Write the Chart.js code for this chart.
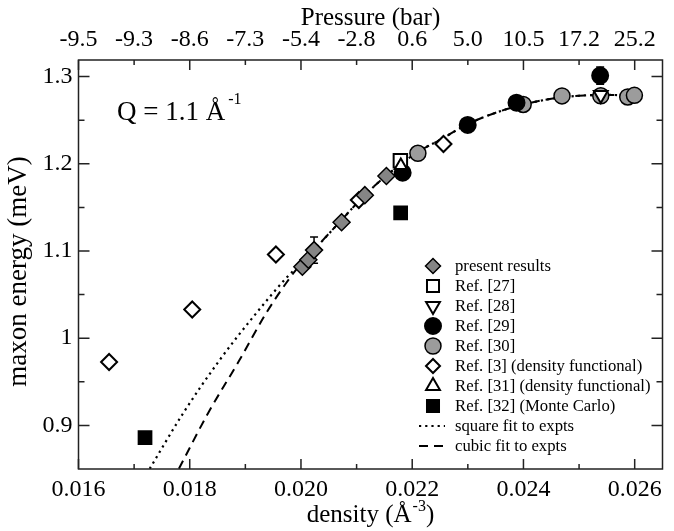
<!DOCTYPE html>
<html>
<head>
<meta charset="utf-8">
<script src="https://cdn.jsdelivr.net/npm/chart.js"></script>
<style>
	body { margin: 0; background: #fff; }
	canvas { display: block; }
</style>
</head>
<body>
<canvas id="grafico" width="674" height="531"></canvas>
<script>
// density (A^-3) vs maxon energy (meV)
var presentX = [0.020025, 0.020133, 0.020235, 0.020730, 0.021148, 0.021536];
var presentY = [1.082, 1.090, 1.101, 1.133, 1.164, 1.186];
var presentErr = [0, 0, 0.015, 0, 0, 0];

var ref27X = [0.021787];
var ref27Y = [1.2035];

var ref28X = [0.025390];
var ref28Y = [1.279];

var ref29X = [0.021828, 0.022998, 0.023875, 0.025379];
var ref29Y = [1.1897, 1.2445, 1.2701, 1.3011];
var ref29Err = [0, 0, 0, 0.010];

var ref30X = [0.022102, 0.023995, 0.024693, 0.025390, 0.025875, 0.025995];
var ref30Y = [1.212, 1.268, 1.2778, 1.278, 1.2766, 1.2785];

var ref3X = [0.016550, 0.018045, 0.019549, 0.021040, 0.022562];
var ref3Y = [0.9727, 1.0329, 1.096, 1.1584, 1.2227];

var ref31X = [0.021795];
var ref31Y = [1.198];

var ref32X = [0.017196, 0.021792];
var ref32Y = [0.8859, 1.1438];

// fit curves
var squareFitX = [0.01728, 0.017876, 0.018534, 0.019191, 0.019728, 0.019966, 0.0202, 0.0207, 0.0211, 0.0215, 0.0221, 0.0225, 0.0230, 0.0235, 0.0240, 0.0245, 0.0250, 0.0255, 0.0260];
var squareFitY = [0.8503, 0.9134, 0.9746, 1.0283, 1.0685, 1.0837, 1.099, 1.1335, 1.161, 1.1845, 1.2135, 1.2275, 1.2455, 1.2585, 1.268, 1.2745, 1.278, 1.279, 1.278];
var cubicFitX = [0.017805, 0.018324, 0.018892, 0.01937, 0.019728, 0.019907, 0.0202, 0.0207, 0.0211, 0.0215, 0.0221, 0.0225, 0.0230, 0.0235, 0.0240, 0.0245, 0.0250, 0.0255, 0.0260];
var cubicFitY = [0.8503, 0.9134, 0.9746, 1.0283, 1.0627, 1.078, 1.099, 1.1335, 1.161, 1.1845, 1.2135, 1.2275, 1.2455, 1.2585, 1.268, 1.2745, 1.278, 1.279, 1.278];

// top axis: pressure at each density tick
var pressureTicks = [0.016, 0.017, 0.018, 0.019, 0.020, 0.021, 0.022, 0.023, 0.024, 0.025, 0.026];
var pressureLabels = ['-9.5', '-9.3', '-8.6', '-7.3', '-5.4', '-2.8', '0.6', '5.0', '10.5', '17.2', '25.2'];

var legendLabels = ['present results', 'Ref. [27]', 'Ref. [28]', 'Ref. [29]', 'Ref. [30]',
	'Ref. [3] (density functional)', 'Ref. [31] (density functional)', 'Ref. [32] (Monte Carlo)',
	'square fit to expts', 'cubic fit to expts'];

var serif = "'Liberation Serif', 'Times New Roman', serif";
Chart.defaults.font.family = serif;
Chart.defaults.color = '#000';
var gray1 = '#858585';
var gray2 = '#9c9c9c';

function pts(xs, ys) {
	var out = [];
	for (var i = 0; i < xs.length; i++) out.push({x: xs[i], y: ys[i]});
	return out;
}

function marker(label, xs, ys, style, radius, bg, extra) {
	var ds = {
		label: label,
		data: pts(xs, ys),
		pointStyle: style,
		pointRadius: radius,
		pointBackgroundColor: bg,
		pointBorderColor: '#000',
		pointBorderWidth: 2,
		showLine: false
	};
	for (var k in extra || {}) ds[k] = extra[k];
	return ds;
}

var dsRef31 = marker(legendLabels[6], ref31X, ref31Y, 'triangle', 7, '#fff');
var dsRef27 = marker(legendLabels[1], ref27X, ref27Y, 'rect', 9.5, '#fff');
var dsRef28 = marker(legendLabels[2], ref28X, ref28Y, 'triangle', 8, '#fff', {pointRotation: 180});
var dsRef29 = marker(legendLabels[3], ref29X, ref29Y, 'circle', 8, '#000');
var dsPresent = marker(legendLabels[0], presentX, presentY, 'rectRot', 8.5, gray1, {pointBorderWidth: 1.5});
var dsRef3 = marker(legendLabels[5], ref3X, ref3Y, 'rectRot', 8, '#fff');
var dsRef30 = marker(legendLabels[4], ref30X, ref30Y, 'circle', 8, gray2, {pointBorderWidth: 1.5});
var dsRef32 = marker(legendLabels[7], ref32X, ref32Y, 'rect', 9, '#000');

var dsSquare = {
	label: legendLabels[8], data: pts(squareFitX, squareFitY), showLine: true,
	borderColor: '#000', borderWidth: 2.2, borderDash: [2.2, 4], pointRadius: 0,
	cubicInterpolationMode: 'monotone'
};
var dsCubic = {
	label: legendLabels[9], data: pts(cubicFitX, cubicFitY), showLine: true,
	borderColor: '#000', borderWidth: 2, borderDash: [9, 6], pointRadius: 0,
	cubicInterpolationMode: 'monotone'
};

// legend order as in the figure
var legendItems = [
	{ds: dsPresent, r: 7.5}, {ds: dsRef27, r: 8.5}, {ds: dsRef28, r: 8}, {ds: dsRef29, r: 8},
	{ds: dsRef30, r: 8}, {ds: dsRef3, r: 7}, {ds: dsRef31, r: 8}, {ds: dsRef32, r: 8.5},
	{ds: dsSquare, line: true}, {ds: dsCubic, line: true}
];

var errorBars = [
	{xs: presentX, ys: presentY, err: presentErr},
	{xs: ref29X, ys: ref29Y, err: ref29Err}
];

// text with a superscript part, centred on cx
function supText(ctx, base, sup, tail, cx, cy, size) {
	ctx.font = size + 'px ' + serif;
	var w1 = ctx.measureText(base).width;
	var w3 = ctx.measureText(tail).width;
	ctx.font = Math.round(size * 0.62) + 'px ' + serif;
	var w2 = ctx.measureText(sup).width;
	var x0 = cx - (w1 + w2 + w3 + 1) / 2;
	ctx.font = size + 'px ' + serif;
	ctx.fillText(base, x0, cy);
	ctx.fillText(tail, x0 + w1 + w2 + 1, cy);
	ctx.font = Math.round(size * 0.62) + 'px ' + serif;
	ctx.fillText(sup, x0 + w1 + 1, cy - size * 0.45);
}

var framePlugin = {
	id: 'frame',
	beforeDatasetsDraw: function(chart) {
		var ctx = chart.ctx, x = chart.scales.x, y = chart.scales.y;
		ctx.save();
		ctx.strokeStyle = '#000';
		ctx.lineWidth = 1.5;
		errorBars.forEach(function(e) {
			for (var i = 0; i < e.xs.length; i++) {
				if (!e.err[i]) continue;
				var px = x.getPixelForValue(e.xs[i]);
				var top = y.getPixelForValue(e.ys[i] + e.err[i]);
				var bot = y.getPixelForValue(e.ys[i] - e.err[i]);
				ctx.beginPath();
				ctx.moveTo(px, top); ctx.lineTo(px, bot);
				ctx.moveTo(px - 4, top); ctx.lineTo(px + 4, top);
				ctx.moveTo(px - 4, bot); ctx.lineTo(px + 4, bot);
				ctx.stroke();
			}
		});
		ctx.restore();
	},
	afterDraw: function(chart) {
		var ctx = chart.ctx, a = chart.chartArea;
		var x = chart.scales.x, y = chart.scales.y;
		ctx.save();
		ctx.strokeStyle = '#222';
		ctx.lineWidth = 1.5;
		ctx.strokeRect(a.left, a.top, a.right - a.left, a.bottom - a.top);

		// inward ticks on all four sides
		ctx.beginPath();
		for (var i = 0; i <= 10; i++) {
			var v = 0.016 + i * 0.001;
			var px = x.getPixelForValue(v);
			var len = (i % 2 === 0) ? 10 : 5;
			ctx.moveTo(px, a.bottom); ctx.lineTo(px, a.bottom - len);
			ctx.moveTo(px, a.top); ctx.lineTo(px, a.top + len);
		}
		for (var j = 1; j <= 9; j++) {
			var w = 0.85 + j * 0.05;
			var py = y.getPixelForValue(w);
			var l2 = (j % 2 === 1) ? 11 : 6;
			ctx.moveTo(a.left, py); ctx.lineTo(a.left + l2, py);
			ctx.moveTo(a.right, py); ctx.lineTo(a.right - l2, py);
		}
		ctx.stroke();

		// axis titles
		ctx.fillStyle = '#000';
		ctx.textBaseline = 'alphabetic';
		var cx = (a.left + a.right) / 2;
		ctx.font = '25px ' + serif;
		ctx.textAlign = 'center';
		ctx.fillText('Pressure (bar)', cx, 25);
		ctx.save();
		ctx.translate(26, (a.top + a.bottom) / 2 + 7);
		ctx.rotate(-Math.PI / 2);
		ctx.font = '27px ' + serif;
		ctx.fillText('maxon energy (meV)', 0, 0);
		ctx.restore();
		ctx.textAlign = 'left';
		supText(ctx, 'density (\u00c5', '-3', ')', cx, 522, 25);

		// Q label
		ctx.font = '27px ' + serif;
		ctx.fillText('Q = 1.1 \u00c5', 117, 120);
		var qw = ctx.measureText('Q = 1.1 \u00c5').width;
		ctx.font = '16px ' + serif;
		ctx.fillText('-1', 117 + qw + 3, 104);

		// legend
		var lx = 433, tx = 455, ly = 266, step = 20;
		ctx.font = '16.7px ' + serif;
		ctx.textBaseline = 'middle';
		legendItems.forEach(function(it, k) {
			var cy = ly + k * step;
			var ds = it.ds;
			if (it.line) {
				ctx.save();
				ctx.strokeStyle = '#000';
				ctx.lineWidth = ds.borderWidth;
				ctx.setLineDash(ds.borderDash);
				ctx.beginPath();
				ctx.moveTo(lx - 14, cy); ctx.lineTo(lx + 12, cy);
				ctx.stroke();
				ctx.restore();
			} else {
				ctx.fillStyle = ds.pointBackgroundColor;
				ctx.strokeStyle = '#000';
				ctx.lineWidth = ds.pointBorderWidth;
				Chart.helpers.drawPoint(ctx, {
					pointStyle: ds.pointStyle, radius: it.r,
					rotation: ds.pointRotation || 0, borderWidth: ds.pointBorderWidth
				}, lx, cy);
			}
			ctx.fillStyle = '#000';
			ctx.fillText(legendLabels[k], tx, cy + 1);
		});
		ctx.restore();
	}
};

var ctx = document.getElementById('grafico').getContext('2d');
window.myScatter = new Chart(ctx, {
	type: 'scatter',
	data: {
		datasets: [dsRef31, dsRef27, dsRef28, dsRef29, dsPresent, dsRef3, dsRef30, dsRef32, dsSquare, dsCubic]
	},
	options: {
		responsive: false,
		animation: false,
		events: [],
		layout: {padding: {left: 0, top: 0, right: 9, bottom: 0}},
		plugins: {
			legend: {display: false},
			tooltip: {enabled: false}
		},
		scales: {
			x: {
				type: 'linear', position: 'bottom', min: 0.016, max: 0.0265,
				grid: {display: false, drawTicks: false},
				border: {display: false},
				ticks: {
					stepSize: 0.002, includeBounds: false, autoSkip: false, maxRotation: 0,
					padding: 6, color: '#000', font: {size: 24},
					callback: function(v) { return v.toFixed(3); }
				},
				afterFit: function(s) { s.height = 62; }
			},
			xTop: {
				type: 'linear', position: 'top', min: 0.016, max: 0.0265,
				grid: {display: false, drawTicks: false},
				border: {display: false},
				ticks: {
					stepSize: 0.001, includeBounds: false, autoSkip: false, maxRotation: 0,
					padding: 6, color: '#000', font: {size: 24},
					callback: function(v) {
						for (var i = 0; i < pressureTicks.length; i++) {
							if (Math.abs(pressureTicks[i] - v) < 1e-6) return pressureLabels[i];
						}
						return '';
					}
				},
				afterFit: function(s) { s.height = 60; }
			},
			y: {
				type: 'linear', position: 'left', min: 0.85, max: 1.319,
				grid: {display: false, drawTicks: false},
				border: {display: false},
				ticks: {
					stepSize: 0.1, includeBounds: false, padding: 6, color: '#000', font: {size: 24},
					callback: function(v) { return String(Math.round(v * 10) / 10); }
				},
				afterFit: function(s) { s.width = 78.5; }
			}
		}
	},
	plugins: [framePlugin]
});
</script>
</body>
</html>
